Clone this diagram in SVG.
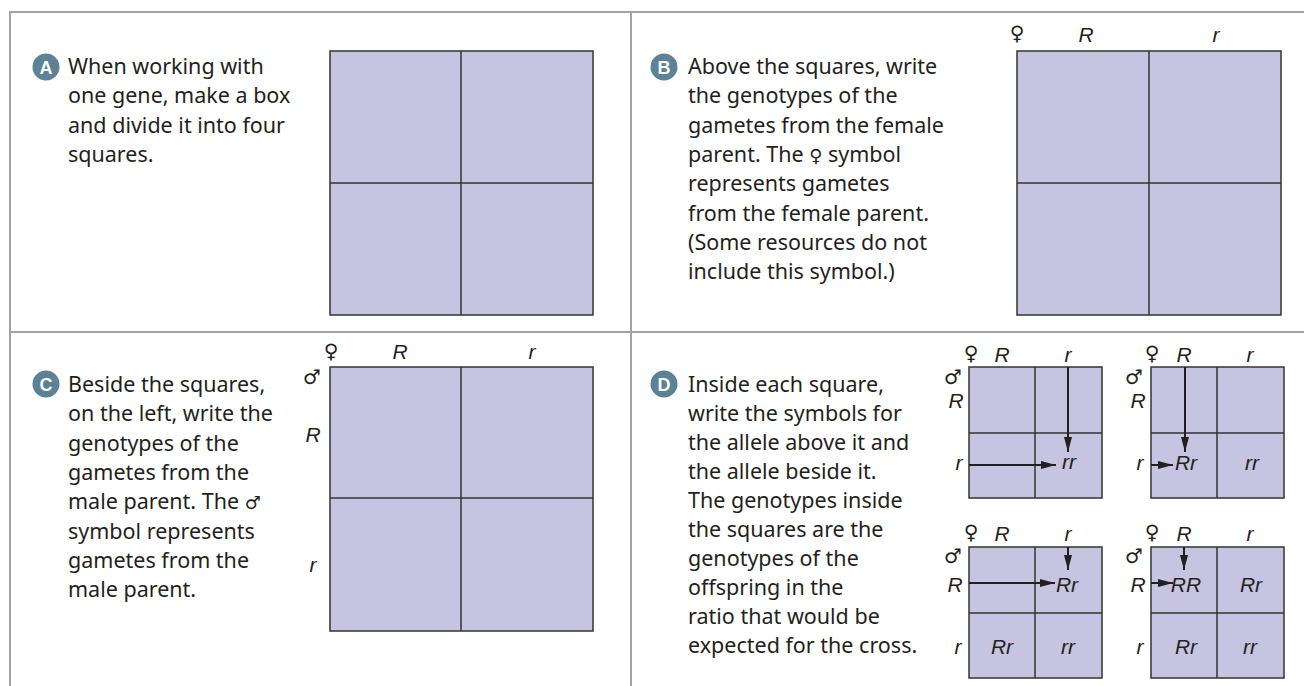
<svg xmlns="http://www.w3.org/2000/svg" width="1304" height="686" viewBox="0 0 1304 686">
<style>
.frame{stroke:#a3a3a3;stroke-width:2;fill:none}
.sq{fill:#c6c4e0;stroke:#333;stroke-width:1.5}
.div{stroke:#333;stroke-width:1.5;fill:none}
.t{font-family:"Noto Sans","Liberation Sans",sans-serif;font-size:21.5px;fill:#231f20}
.lab{font-family:"Liberation Sans",sans-serif;font-style:italic;font-size:21px;fill:#231f20;text-anchor:middle}
.sym{font-family:"DejaVu Sans",sans-serif;font-size:20px;fill:#231f20;text-anchor:middle}
.isym{font-family:"DejaVu Sans",sans-serif;font-size:18px}
.badge{fill:#5b8295}
.bt{font-family:"Liberation Sans",sans-serif;font-weight:bold;font-size:18px;fill:#fff;text-anchor:middle}
.arr{stroke:#231f20;stroke-width:2;fill:none;marker-end:url(#ah)}
</style>
<defs>
<marker id="ah" viewBox="0 0 15 8" refX="15" refY="4" markerWidth="15" markerHeight="8" markerUnits="userSpaceOnUse" orient="auto"><path d="M0,0 L15,4 L0,8 z" fill="#231f20"/></marker>
</defs>
<g id="frame">
<path class="frame" d="M10,686 V12 H1304 M631,12 V686 M10,332 H1304"/>
</g>
<g id="panelA">
<circle class="badge" cx="46" cy="67" r="13.5"/><text class="bt" x="46" y="73.5">A</text>
<text class="t" x="68" y="74">When working with</text>
<text class="t" x="68" y="103.3">one gene, make a box</text>
<text class="t" x="68" y="132.6">and divide it into four</text>
<text class="t" x="68" y="161.9">squares.</text>
<rect class="sq" x="330" y="51" width="263" height="264"/>
<path class="div" d="M461,51 V315 M330,183 H593"/>
</g>
<g id="panelB">
<circle class="badge" cx="664" cy="67" r="13.5"/><text class="bt" x="664" y="73.5">B</text>
<text class="t" x="688" y="74">Above the squares, write</text>
<text class="t" x="688" y="103.3">the genotypes of the</text>
<text class="t" x="688" y="132.6">gametes from the female</text>
<text class="t" x="688" y="161.9">parent. The <tspan class="isym">♀</tspan> symbol</text>
<text class="t" x="688" y="191.2">represents gametes</text>
<text class="t" x="688" y="220.5">from the female parent.</text>
<text class="t" x="688" y="249.8">(Some resources do not</text>
<text class="t" x="688" y="279.1">include this symbol.)</text>
<text class="sym" x="1017" y="40">♀</text>
<text class="lab" x="1086" y="42">R</text>
<text class="lab" x="1216" y="42">r</text>
<rect class="sq" x="1017" y="51" width="264" height="264"/>
<path class="div" d="M1149,51 V315 M1017,183 H1281"/>
</g>
<g id="panelC">
<circle class="badge" cx="46" cy="384" r="13.5"/><text class="bt" x="46" y="390.5">C</text>
<text class="t" x="68" y="392">Beside the squares,</text>
<text class="t" x="68" y="421.3">on the left, write the</text>
<text class="t" x="68" y="450.6">genotypes of the</text>
<text class="t" x="68" y="479.9">gametes from the</text>
<text class="t" x="68" y="509.2">male parent. The <tspan class="isym">♂</tspan></text>
<text class="t" x="68" y="538.5">symbol represents</text>
<text class="t" x="68" y="567.8">gametes from the</text>
<text class="t" x="68" y="597.1">male parent.</text>
<text class="sym" x="331" y="358">♀</text>
<text class="sym" x="312" y="384">♂</text>
<text class="lab" x="400" y="359">R</text>
<text class="lab" x="532" y="359">r</text>
<text class="lab" x="313" y="442">R</text>
<text class="lab" x="313" y="572">r</text>
<rect class="sq" x="330" y="367" width="263" height="264"/>
<path class="div" d="M461,367 V631 M330,498 H593"/>
</g>
<g id="panelD">
<circle class="badge" cx="664" cy="384" r="13.5"/><text class="bt" x="664" y="390.5">D</text>
<text class="t" x="688" y="392">Inside each square,</text>
<text class="t" x="688" y="421">write the symbols for</text>
<text class="t" x="688" y="450">the allele above it and</text>
<text class="t" x="688" y="479">the allele beside it.</text>
<text class="t" x="688" y="508">The genotypes inside</text>
<text class="t" x="688" y="537">the squares are the</text>
<text class="t" x="688" y="566">genotypes of the</text>
<text class="t" x="688" y="595">offspring in the</text>
<text class="t" x="688" y="624">ratio that would be</text>
<text class="t" x="688" y="653">expected for the cross.</text>
</g>
<g id="D1">
<rect class="sq" x="969" y="367" width="133" height="131"/>
<path class="div" d="M1035,367 V498 M969,433 H1102"/>
<text class="sym" x="971" y="360">♀</text><text class="sym" x="953" y="384">♂</text>
<text class="lab" x="1002" y="362">R</text><text class="lab" x="1068" y="362">r</text>
<text class="lab" x="956" y="408">R</text><text class="lab" x="959" y="470">r</text>
<text class="lab" x="1069" y="469">rr</text>
</g>
<g id="D2">
<rect class="sq" x="1151" y="367" width="133" height="131"/>
<path class="div" d="M1217,367 V498 M1151,433 H1284"/>
<text class="sym" x="1152" y="360">♀</text><text class="sym" x="1134" y="384">♂</text>
<text class="lab" x="1184" y="362">R</text><text class="lab" x="1250" y="362">r</text>
<text class="lab" x="1138" y="408">R</text><text class="lab" x="1140" y="470">r</text>
<text class="lab" x="1186" y="470">Rr</text><text class="lab" x="1252" y="470">rr</text>
</g>
<g id="D3">
<rect class="sq" x="969" y="547" width="133" height="131"/>
<path class="div" d="M1035,547 V678 M969,613 H1102"/>
<text class="sym" x="971" y="539">♀</text><text class="sym" x="953" y="563">♂</text>
<text class="lab" x="1002" y="541">R</text><text class="lab" x="1068" y="541">r</text>
<text class="lab" x="955" y="592">R</text><text class="lab" x="958" y="654">r</text>
<text class="lab" x="1067" y="592">Rr</text>
<text class="lab" x="1002" y="654">Rr</text><text class="lab" x="1068" y="654">rr</text>
</g>
<g id="D4">
<rect class="sq" x="1151" y="547" width="133" height="131"/>
<path class="div" d="M1217,547 V678 M1151,613 H1284"/>
<text class="sym" x="1152" y="539">♀</text><text class="sym" x="1134" y="563">♂</text>
<text class="lab" x="1184" y="541">R</text><text class="lab" x="1250" y="541">r</text>
<text class="lab" x="1138" y="592">R</text><text class="lab" x="1140" y="654">r</text>
<text class="lab" x="1186" y="592">RR</text><text class="lab" x="1251" y="592">Rr</text>
<text class="lab" x="1186" y="654">Rr</text><text class="lab" x="1250" y="654">rr</text>
</g>
<g id="connectors">
<path class="arr" d="M1068,367 V452"/>
<path class="arr" d="M969,465 H1056"/>
<path class="arr" d="M1185,367 V452"/>
<path class="arr" d="M1151,465 H1173"/>
<path class="arr" d="M1068,547 V570"/>
<path class="arr" d="M969,583 H1055"/>
<path class="arr" d="M1184,547 V570"/>
<path class="arr" d="M1151,583 H1173"/>
</g>
</svg>
